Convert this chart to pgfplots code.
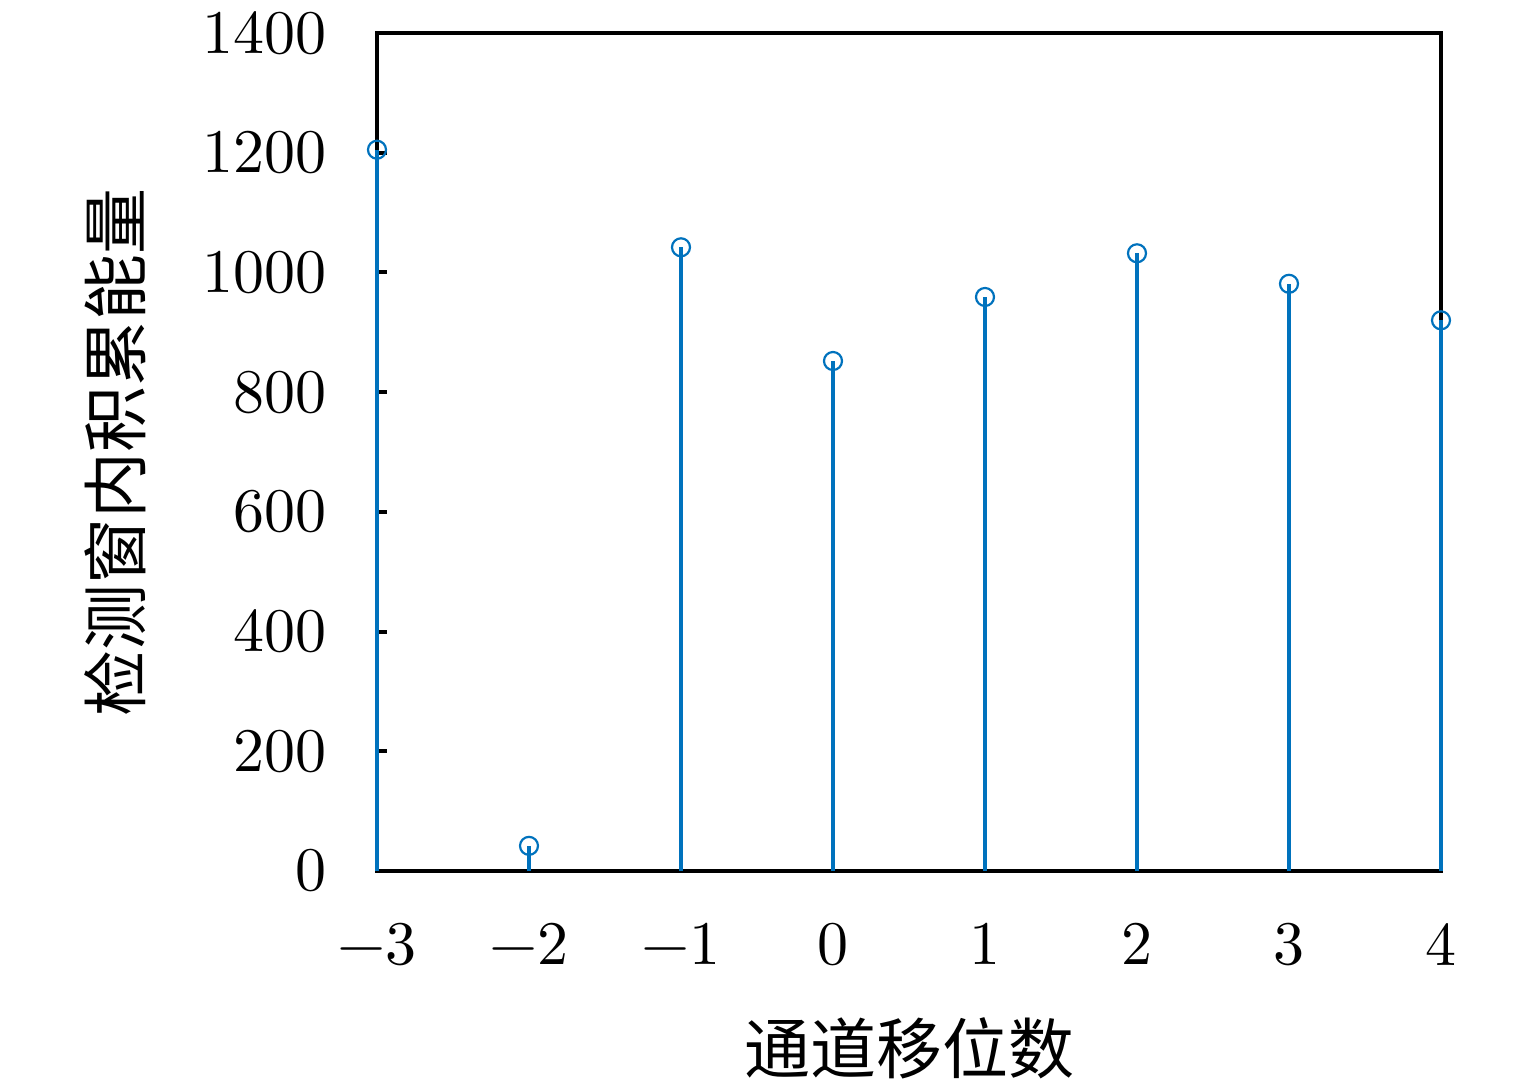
\documentclass[border=0pt]{standalone}
\usepackage{fontspec}
\newfontfamily\cjk{Noto Sans CJK SC}
\newfontfamily\lmten{lmroman10-regular}[Extension=.otf]
\usepackage{pgfplots}
\pgfplotsset{compat=1.18}
\definecolor{mblue}{RGB}{0,114,189}
\begin{document}
\begin{tikzpicture}
\useasboundingbox (-188.5pt,-105.5pt) rectangle (579pt,435.5pt);
\begin{axis}[
  at={(0,0)}, anchor=south west,
  scale only axis, width=532pt, height=419pt,
  xmin=-3, xmax=4, ymin=0, ymax=1400,
  xtick={-3,-2,...,4}, ytick={0,200,...,1400},
  xticklabels={−3,−2,−1,0,1,2,3,4},
  yticklabels={0,200,400,600,800,1000,1200,1400},
  xtick pos=bottom, ytick pos=left,
  tick align=inside, major tick length=5pt,
  axis line style={black, line width=2.2pt},
  every tick/.style={black, line width=2pt},
  tick label style={font=\lmten\fontsize{31}{37}\selectfont},
  xticklabel style={anchor=north, inner sep=0pt, yshift=-26pt},
  yticklabel style={anchor=east, inner sep=0pt, xshift=-25pt},
  xlabel={\cjk 通道移位数},
  ylabel={\cjk 检测窗内积累能量},
  label style={font=\fontsize{33}{40}\selectfont},
  xlabel style={at={(axis description cs:0.5,-0.2112)}, anchor=center},
  ylabel style={at={(axis description cs:-0.2462,0.5)}, anchor=center},
  clip=false,
]
\addplot[ycomb, mblue, line width=2pt, mark=o, mark size=4.5pt, mark options={line width=1.1pt, fill=none}]
  coordinates {(-3,1205) (-2,42) (-1,1042) (0,852) (1,959) (2,1032) (3,981) (4,920)};
\end{axis}
\end{tikzpicture}
\end{document}
